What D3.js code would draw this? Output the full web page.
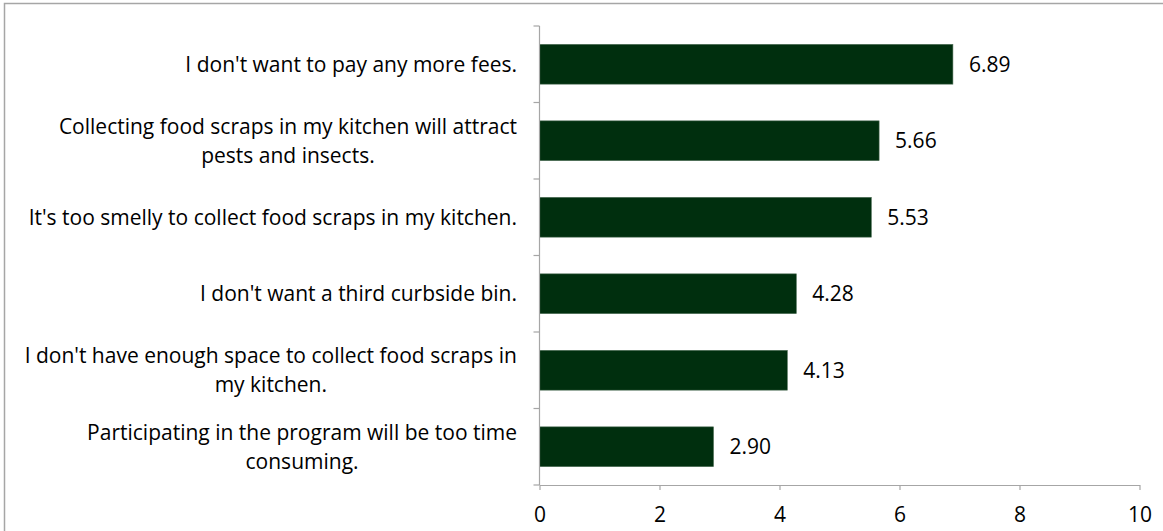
<!DOCTYPE html>
<html><head><meta charset="utf-8">
<script src="https://cdn.jsdelivr.net/npm/d3@7"></script>
<style>body{margin:0;background:#fff}svg{display:block}</style>
</head><body>
<script>
const categories = [
  ["I don't want to pay any more fees."],
  ["Collecting food scraps in my kitchen will attract", "pests and insects."],
  ["It's too smelly to collect food scraps in my kitchen."],
  ["I don't want a third curbside bin."],
  ["I don't have enough space to collect food scraps in", "my kitchen."],
  ["Participating in the program will be too time", "consuming."]
];
const values = [6.89, 5.66, 5.53, 4.28, 4.13, 2.90];
const xTicks = [0, 2, 4, 6, 8, 10];

(function () {
const W = 1163, H = 531;
const font = "'Open Sans', sans-serif";
const fs = 21;
const svg = d3.select("body").append("svg").attr("width", W).attr("height", H);

svg.append("rect").attr("x", 4.5).attr("y", 3.5).attr("width", W + 10).attr("height", H + 10)
  .attr("fill", "none").attr("stroke", "#a6a6a6").attr("stroke-width", 1.5);

const pLeft = 539.5, pRight = 1139.5, pTop = 26, pBottom = 485;
const x = d3.scaleLinear().domain([0, 10]).range([pLeft, pRight]);
const y = d3.scaleBand().domain(d3.range(categories.length)).range([pTop, pBottom]).paddingInner(0.48).paddingOuter(0.24);

svg.selectAll("rect.bar").data(values).join("rect").attr("class", "bar")
  .attr("x", x(0)).attr("y", (d, i) => y(i))
  .attr("width", d => x(d) - x(0)).attr("height", y.bandwidth())
  .attr("fill", "#002f0e").attr("stroke", "#4a6b52").attr("stroke-width", 0.6);

svg.selectAll("text.val").data(values).join("text").attr("class", "val")
  .attr("x", d => x(d) + 16).attr("y", (d, i) => y(i) + y.bandwidth() / 2)
  .attr("dy", "0.35em").attr("font-family", font).attr("font-size", fs).attr("fill", "#000")
  .text(d => d.toFixed(2));

const axisColor = "#a6a6a6";
svg.append("line").attr("x1", pLeft).attr("x2", pLeft).attr("y1", pTop).attr("y2", pBottom)
  .attr("stroke", axisColor).attr("stroke-width", 1.2);
const step = (pBottom - pTop) / categories.length;
d3.range(categories.length + 1).forEach(k => {
  const yy = pTop + k * step;
  svg.append("line").attr("x1", pLeft - 6).attr("x2", pLeft).attr("y1", yy).attr("y2", yy)
    .attr("stroke", axisColor).attr("stroke-width", 1.2);
});

const xAxis = svg.append("g").attr("transform", `translate(0,${pBottom})`)
  .call(d3.axisBottom(x).tickValues(xTicks).tickSize(5).tickSizeOuter(0).tickPadding(17));
xAxis.select(".domain").attr("stroke", axisColor).attr("stroke-width", 1.2);
xAxis.selectAll(".tick line").attr("stroke", axisColor).attr("stroke-width", 1.2);
xAxis.selectAll(".tick text").attr("font-family", font).attr("font-size", fs).attr("fill", "#000");

const labelRight = 517, lineH = 29;
categories.forEach((lines, i) => {
  const cy = y(i) + y.bandwidth() / 2;
  const g = svg.append("g");
  const texts = lines.map((ln, j) => g.append("text")
    .attr("font-family", font).attr("font-size", fs).attr("fill", "#000")
    .attr("text-anchor", "middle")
    .attr("y", cy + (j - (lines.length - 1) / 2) * lineH).attr("dy", "0.35em").text(ln));
  const wMax = d3.max(texts, t => t.node().getComputedTextLength());
  texts.forEach(t => t.attr("x", labelRight - wMax / 2));
});
})();
</script>
</body></html>
